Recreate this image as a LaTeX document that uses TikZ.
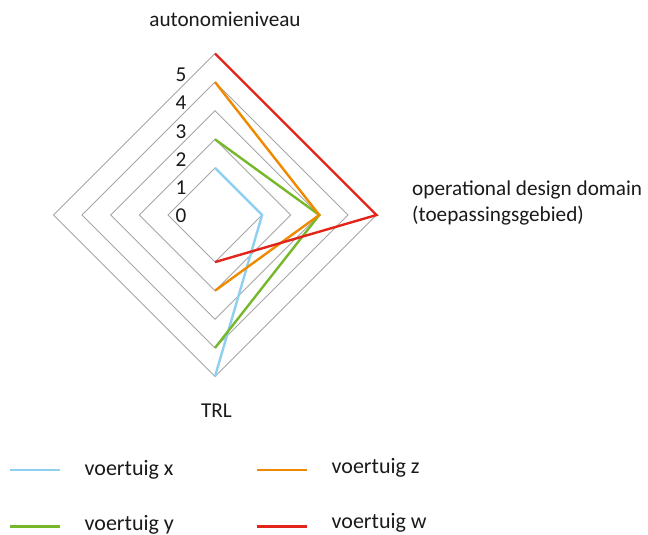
\documentclass[tikz,border=0pt]{standalone}
\usepackage{fontspec}
\setmainfont{Carlito}
\definecolor{gridgray}{HTML}{A6A6A6}
\definecolor{serx}{HTML}{8FD0F0}
\definecolor{sery}{HTML}{77B82A}
\definecolor{serz}{HTML}{EF8A00}
\definecolor{serw}{HTML}{E3241B}
\definecolor{txt}{HTML}{1A1A1A}
\begin{document}
\begin{tikzpicture}[x=1pt,y=-1pt,
  ring/.style={draw=gridgray,line width=0.9pt},
  series/.style={line width=2.4pt,line join=miter},
  lbl/.style={font=\fontsize{21.2}{26.5}\selectfont,text=txt,inner sep=0pt},
  leglbl/.style={lbl,font=\fontsize{22}{26.5}\selectfont,anchor=base west},
  tick/.style={lbl,anchor=base},
  legline/.style={line width=2.7pt}]
\useasboundingbox (0,0) rectangle (648,535);
% radar centre; level L sits at radius 18.5+28.6*L
\def\cx{215}\def\cy{215}
% grid rings, levels 1..5
\foreach \L in {1,...,5}{
  \pgfmathsetmacro\r{18.5+28.6*\L}
  \draw[ring] (\cx,\cy-\r) -- (\cx+\r,\cy) -- (\cx,\cy+\r) -- (\cx-\r,\cy) -- cycle;
}
% scale labels
\foreach \L in {0,...,5}{
  \node[tick] (t\L) at (181,222.3-28.1*\L) {\L};
}
% axis labels
\node[lbl,anchor=base] (aut) at (225,26.7) {autonomieniveau};
\node[lbl,anchor=base west,align=left] (odd) at (412,221.7) {operational design domain\\(toepassingsgebied)};
\node[lbl,anchor=base] (trl) at (216.5,417.3) {TRL};
% series: levels on the top / right / bottom axes
\newcommand{\series}[4]{%
  \pgfmathsetmacro\ra{18.5+28.6*#2}%
  \pgfmathsetmacro\rb{18.5+28.6*#3}%
  \pgfmathsetmacro\rc{18.5+28.6*#4}%
  \draw[series,#1] (\cx,\cy-\ra) -- (\cx+\rb,\cy) -- (\cx,\cy+\rc);}
\series{serx}{1}{1}{5}
\series{sery}{2}{3}{4}
\series{serz}{4}{3}{2}
\series{serw}{5}{5}{1}
% legend
\coordinate (lx0) at (10,470);    \coordinate (lx1) at (60,470);
\coordinate (lz0) at (257,470);   \coordinate (lz1) at (307,470);
\coordinate (ly0) at (10,526.7);  \coordinate (ly1) at (60,526.7);
\coordinate (lw0) at (257,526.7); \coordinate (lw1) at (307,526.7);
\draw[legline,serx] (lx0) -- (lx1);
\draw[legline,serz] (lz0) -- (lz1);
\draw[legline,sery] (ly0) -- (ly1);
\draw[legline,serw] (lw0) -- (lw1);
\node[leglbl] (nx) at (84.5,475.7) {voertuig x};
\node[leglbl] (nz) at (331.5,473.5) {voertuig z};
\node[leglbl] (ny) at (84.5,530) {voertuig y};
\node[leglbl] (nw) at (331.5,528) {voertuig w};
\end{tikzpicture}
\end{document}
